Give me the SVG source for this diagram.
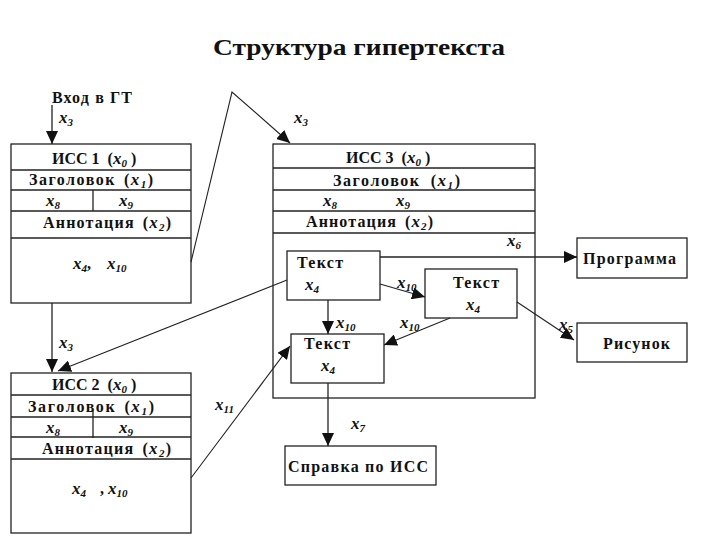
<svg xmlns="http://www.w3.org/2000/svg" width="720" height="540" viewBox="0 0 720 540">
<style>
text{font-family:"Liberation Serif","DejaVu Serif",serif;font-weight:bold;font-size:16px;fill:#111}
.t{font-size:24px}
.v{font-style:italic;font-size:17px}
.s{font-style:italic;font-size:11px}
.box{fill:#fff;stroke:#222;stroke-width:1.3}
.ln{stroke:#222;stroke-width:1.3;fill:none}
.c{stroke:#222;stroke-width:1.1;fill:none}
</style>
<defs>
<marker id="ah" markerUnits="userSpaceOnUse" markerWidth="14" markerHeight="12" refX="13" refY="6" orient="auto">
<path d="M0,0 L13,6 L0,12 Z" fill="#111"/>
</marker>
</defs>
<rect width="720" height="540" fill="#fff"/>
<text class="t" x="213" y="55" textLength="292" lengthAdjust="spacingAndGlyphs">Структура гипертекста</text>

<g id="entry">
<text x="52" y="103" textLength="80">Вход в ГТ</text>
</g>

<g id="iss1">
<rect class="box" x="11" y="144" width="180" height="159"/>
<line class="ln" x1="11" y1="170" x2="191" y2="170"/>
<line class="ln" x1="11" y1="190" x2="191" y2="190"/>
<line class="ln" x1="11" y1="211" x2="191" y2="211"/>
<line class="ln" x1="11" y1="238" x2="191" y2="238"/>
<line class="ln" x1="93" y1="190" x2="93" y2="211"/>
<text x="52" y="164">ИСС 1<tspan dx="8">(</tspan><tspan class="v">x</tspan><tspan class="s" dy="3">0</tspan><tspan dy="-3" dx="4">)</tspan></text>
<text x="29" y="185" textLength="124">Заголовок<tspan dx="8">(</tspan><tspan class="v">x</tspan><tspan class="s" dy="3">1</tspan><tspan dy="-3">)</tspan></text>
<text x="46" y="206"><tspan class="v">x</tspan><tspan class="s" dy="3">8</tspan></text>
<text x="119" y="206"><tspan class="v">x</tspan><tspan class="s" dy="3">9</tspan></text>
<text x="43" y="228" textLength="128">Аннотация<tspan dx="8">(</tspan><tspan class="v">x</tspan><tspan class="s" dy="3">2</tspan><tspan dy="-3">)</tspan></text>
<text x="73" y="269"><tspan class="v">x</tspan><tspan class="s" dy="3">4</tspan><tspan dy="-3">,</tspan><tspan class="v" dx="16">x</tspan><tspan class="s" dy="3">10</tspan></text>
</g>

<g id="iss2">
<rect class="box" x="11" y="373" width="180" height="160"/>
<line class="ln" x1="11" y1="395" x2="191" y2="395"/>
<line class="ln" x1="11" y1="417" x2="191" y2="417"/>
<line class="ln" x1="11" y1="437" x2="191" y2="437"/>
<line class="ln" x1="11" y1="459" x2="191" y2="459"/>
<line class="ln" x1="93" y1="411" x2="93" y2="438"/>
<text x="52" y="390">ИСС 2<tspan dx="8">(</tspan><tspan class="v">x</tspan><tspan class="s" dy="3">0</tspan><tspan dy="-3" dx="4">)</tspan></text>
<text x="28" y="412" textLength="126">Заголовок<tspan dx="8">(</tspan><tspan class="v">x</tspan><tspan class="s" dy="3">1</tspan><tspan dy="-3">)</tspan></text>
<text x="46" y="433"><tspan class="v">x</tspan><tspan class="s" dy="3">8</tspan></text>
<text x="119" y="433"><tspan class="v">x</tspan><tspan class="s" dy="3">9</tspan></text>
<text x="42" y="454" textLength="129">Аннотация<tspan dx="8">(</tspan><tspan class="v">x</tspan><tspan class="s" dy="3">2</tspan><tspan dy="-3">)</tspan></text>
<text x="72" y="494"><tspan class="v">x</tspan><tspan class="s" dy="3">4</tspan><tspan dy="-3" dx="14">,</tspan><tspan class="v" dx="4">x</tspan><tspan class="s" dy="3">10</tspan></text>
</g>

<g id="iss3">
<rect class="box" x="273" y="144" width="262" height="254"/>
<line class="ln" x1="273" y1="168" x2="535" y2="168"/>
<line class="ln" x1="273" y1="190" x2="535" y2="190"/>
<line class="ln" x1="273" y1="211" x2="535" y2="211"/>
<line class="ln" x1="273" y1="233" x2="535" y2="233"/>
<text x="346" y="163">ИСС 3<tspan dx="8">(</tspan><tspan class="v">x</tspan><tspan class="s" dy="3">0</tspan><tspan dy="-3" dx="4">)</tspan></text>
<text x="333" y="186" textLength="127">Заголовок<tspan dx="10">(</tspan><tspan class="v">x</tspan><tspan class="s" dy="3">1</tspan><tspan dy="-3">)</tspan></text>
<text x="323" y="206"><tspan class="v">x</tspan><tspan class="s" dy="3">8</tspan></text>
<text x="396" y="206"><tspan class="v">x</tspan><tspan class="s" dy="3">9</tspan></text>
<text x="306" y="227" textLength="127">Аннотация<tspan dx="8">(</tspan><tspan class="v">x</tspan><tspan class="s" dy="3">2</tspan><tspan dy="-3">)</tspan></text>
<text x="507" y="246"><tspan class="v">x</tspan><tspan class="s" dy="3">6</tspan></text>
</g>

<g id="textA">
<rect class="box" x="287" y="251" width="93" height="49"/>
<text x="297" y="268" textLength="46">Текст</text>
<text x="305" y="290"><tspan class="v">x</tspan><tspan class="s" dy="3">4</tspan></text>
</g>

<g id="textB">
<rect class="box" x="425" y="269" width="92" height="49"/>
<text x="453" y="288" textLength="46">Текст</text>
<text x="466" y="310"><tspan class="v">x</tspan><tspan class="s" dy="3">4</tspan></text>
</g>

<g id="textC">
<rect class="box" x="291" y="334" width="93" height="49"/>
<text x="304" y="349" textLength="46">Текст</text>
<text x="321" y="371"><tspan class="v">x</tspan><tspan class="s" dy="3">4</tspan></text>
</g>

<g id="program">
<rect class="box" x="577" y="238" width="110" height="40"/>
<text x="583" y="264" textLength="93">Программа</text>
</g>

<g id="picture">
<rect class="box" x="577" y="323" width="110" height="39"/>
<text x="603" y="349" textLength="67">Рисунок</text>
</g>

<g id="help">
<rect class="box" x="285" y="446" width="151" height="39"/>
<text x="288" y="472" textLength="140">Справка по ИСС</text>
</g>

<g id="connectors">
<line class="ln" x1="52" y1="105" x2="52" y2="144" marker-end="url(#ah)"/>
<polyline class="c" points="191,262 232,92 290,143" marker-end="url(#ah)"/>
<line class="ln" x1="52" y1="303" x2="52" y2="372" marker-end="url(#ah)"/>
<line class="c" x1="287" y1="280" x2="58" y2="371" marker-end="url(#ah)"/>
<line class="c" x1="191" y1="478" x2="290" y2="346" marker-end="url(#ah)"/>
<line class="ln" x1="328" y1="300" x2="328" y2="334" marker-end="url(#ah)"/>
<line class="c" x1="380" y1="284" x2="425" y2="297" marker-end="url(#ah)"/>
<line class="c" x1="450" y1="318" x2="384" y2="345" marker-end="url(#ah)"/>
<line class="ln" x1="380" y1="257" x2="577" y2="257" marker-end="url(#ah)"/>
<line class="c" x1="517" y1="302" x2="574" y2="340" marker-end="url(#ah)"/>
<line class="ln" x1="328" y1="383" x2="328" y2="446" marker-end="url(#ah)"/>
</g>

<g id="labels">
<text x="59" y="123"><tspan class="v">x</tspan><tspan class="s" dy="3">3</tspan></text>
<text x="294" y="123"><tspan class="v">x</tspan><tspan class="s" dy="3">3</tspan></text>
<text x="59" y="348"><tspan class="v">x</tspan><tspan class="s" dy="3">3</tspan></text>
<text x="336" y="328"><tspan class="v">x</tspan><tspan class="s" dy="3">10</tspan></text>
<text x="397" y="288"><tspan class="v">x</tspan><tspan class="s" dy="3">10</tspan></text>
<text x="400" y="328"><tspan class="v">x</tspan><tspan class="s" dy="3">10</tspan></text>
<text x="559" y="330"><tspan class="v">x</tspan><tspan class="s" dy="3">5</tspan></text>
<text x="215" y="410"><tspan class="v">x</tspan><tspan class="s" dy="3">11</tspan></text>
<text x="351" y="429"><tspan class="v">x</tspan><tspan class="s" dy="3">7</tspan></text>
</g>
</svg>
